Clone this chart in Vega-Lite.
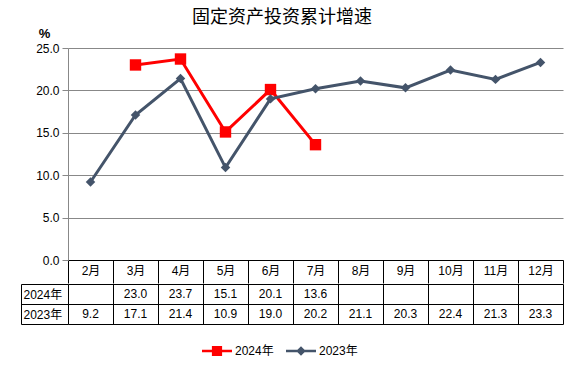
{
  "$schema": "https://vega.github.io/schema/vega-lite/v6.json",
  "padding": {"left": 20, "top": 9, "right": 19, "bottom": 5},
  "background": "white",
  "title": {"text": "固定资产投资累计增速", "fontSize": 18, "font": "Noto Sans CJK SC", "fontWeight": "normal", "color": "#000", "anchor": "middle", "offset": 0, "dx": -10},
  "config": {"view": {"stroke": null}, "font": "Liberation Sans, Noto Sans CJK SC"},
  "datasets": {
    "d": [
      {"month": "3月", "series": "2024年", "value": 23.0},
      {"month": "4月", "series": "2024年", "value": 23.7},
      {"month": "5月", "series": "2024年", "value": 15.1},
      {"month": "6月", "series": "2024年", "value": 20.1},
      {"month": "7月", "series": "2024年", "value": 13.6},
      {"month": "2月", "series": "2023年", "value": 9.2},
      {"month": "3月", "series": "2023年", "value": 17.1},
      {"month": "4月", "series": "2023年", "value": 21.4},
      {"month": "5月", "series": "2023年", "value": 10.9},
      {"month": "6月", "series": "2023年", "value": 19.0},
      {"month": "7月", "series": "2023年", "value": 20.2},
      {"month": "8月", "series": "2023年", "value": 21.1},
      {"month": "9月", "series": "2023年", "value": 20.3},
      {"month": "10月", "series": "2023年", "value": 22.4},
      {"month": "11月", "series": "2023年", "value": 21.3},
      {"month": "12月", "series": "2023年", "value": 23.3}
    ]
  },
  "resolve": {"scale": {"x": "independent", "y": "independent"}},
  "spacing": -8,
  "vconcat": [
    {
      "width": 495,
      "height": 212,
      "data": {"name": "d"},
      "encoding": {
        "x": {"field": "month", "type": "ordinal", "bandPosition": 0.5,
          "scale": {"type": "band", "domain": ["2月","3月","4月","5月","6月","7月","8月","9月","10月","11月","12月"], "paddingInner": 0, "paddingOuter": 0},
          "axis": {"orient": "bottom", "title": null, "domain": true, "domainColor": "#000", "ticks": true, "tickColor": "#000", "tickSize": 23, "tickBand": "extent", "labelPadding": -18, "labelFontSize": 12, "labelColor": "#000", "labelAngle": 0, "grid": false}},
        "y": {"field": "value", "type": "quantitative",
          "scale": {"domain": [0, 25], "nice": false, "zero": true},
          "axis": {"values": [0, 5, 10, 15, 20, 25], "format": ".1f", "title": "%", "titleAngle": 0, "titleX": -24, "titleY": -11, "titleAlign": "center", "titleBaseline": "alphabetic", "titleFontSize": 13, "titleFontWeight": "bold", "titleColor": "#000", "grid": true, "gridColor": "#888888", "domainColor": "#888888", "tickColor": "#888888", "tickSize": 6, "labelFontSize": 12, "labelColor": "#000", "labelPadding": 3}},
        "color": {"field": "series", "type": "nominal",
          "scale": {"domain": ["2024年", "2023年"], "range": ["#ff0000", "#44546a"]},
          "legend": {"orient": "none", "legendX": 134, "legendY": 288, "direction": "horizontal", "title": null, "symbolSize": 900, "labelFontSize": 12, "labelColor": "#000", "columnPadding": 12, "labelOffset": 3, "symbolOpacity": 1,
            "encode": {"symbols": {"update": {
              "shape": {"signal": "datum.value === '2024年' ? 'M-1,-0.08H1V0.08H-1Z M-0.34,-0.34H0.34V0.34H-0.34Z' : 'M-1,-0.08H1V0.08H-1Z M0,-0.32L0.32,0L0,0.32L-0.32,0Z'"},
              "fill": {"signal": "datum.value === '2024年' ? '#ff0000' : '#44546a'"},
              "fillOpacity": {"value": 1},
              "strokeWidth": {"value": 0}
            }}}}}
      },
      "layer": [
        {"mark": {"type": "line", "strokeWidth": 3}},
        {"transform": [{"filter": "datum.series === '2024年'"}],
          "mark": {"type": "point", "filled": true, "opacity": 1, "shape": "square", "size": 130}},
        {"transform": [{"filter": "datum.series === '2023年'"}],
          "mark": {"type": "point", "filled": true, "opacity": 1, "shape": "diamond", "size": 90}}
      ]
    },
    {
      "width": 495,
      "height": 40,
      "data": {"name": "d"},
      "mark": {"type": "text", "fontSize": 12, "color": "#000"},
      "encoding": {
        "x": {"field": "month", "type": "ordinal", "bandPosition": 0.5,
          "scale": {"type": "band", "domain": ["2月","3月","4月","5月","6月","7月","8月","9月","10月","11月","12月"], "paddingInner": 0, "paddingOuter": 0},
          "axis": {"labels": false, "ticks": false, "domain": false, "title": null, "grid": true, "gridColor": "#000", "tickBand": "extent"}},
        "y": {"field": "series", "type": "nominal", "bandPosition": 0.5,
          "scale": {"type": "band", "domain": ["2024年", "2023年"], "paddingInner": 0, "paddingOuter": 0},
          "axis": {"orient": "left", "offset": 47, "tickSize": -47, "domain": true, "domainColor": "#000", "tickColor": "#000", "tickBand": "extent", "grid": true, "gridColor": "#000", "labelAlign": "left", "labelPadding": 45, "labelFontSize": 12, "labelColor": "#000", "title": null}},
        "text": {"field": "value", "type": "quantitative", "format": ".1f"}
      }
    }
  ]
}
